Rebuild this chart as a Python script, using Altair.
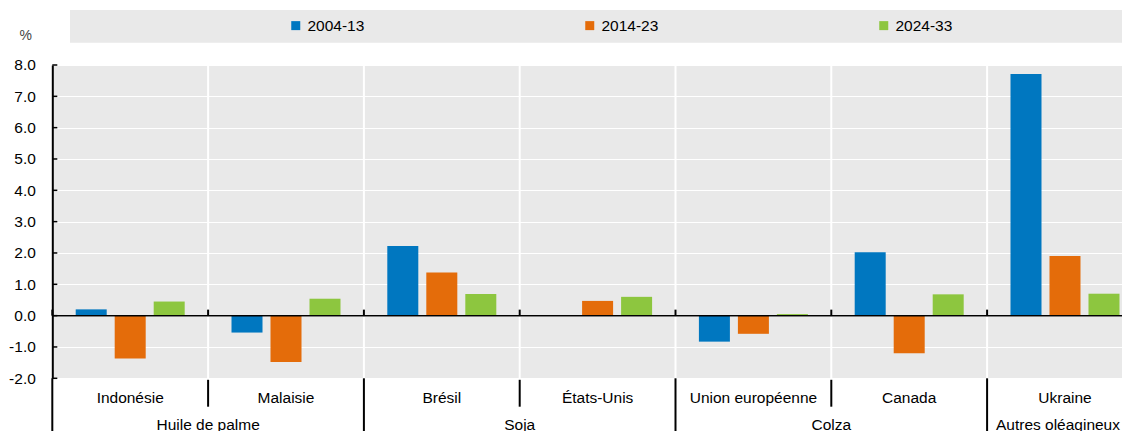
import altair as alt
import pandas as pd

countries = ["Indonésie", "Malaisie", "Brésil", "États-Unis", "Union européenne", "Canada", "Ukraine"]
groups = ["Huile de palme", "Huile de palme", "Soja", "Soja", "Colza", "Colza", "Autres oléagineux"]
periods = ["2004-13", "2014-23", "2024-33"]
v_2004_13 = [0.20, -0.54, 2.22, 0.02, -0.83, 2.02, 7.71]
v_2014_23 = [-1.37, -1.48, 1.38, 0.47, -0.58, -1.20, 1.90]
v_2024_33 = [0.45, 0.54, 0.69, 0.60, 0.05, 0.68, 0.70]
colors = ["#0077C0", "#E46C0A", "#8DC63F"]
y_ticks = [-2, -1, 0, 1, 2, 3, 4, 5, 6, 7, 8]

FONT = "Liberation Sans, Arial, sans-serif"
FS = 15.5
PAD_L = 44.3
W_VIEW = 1114 - PAD_L     # visible plot width (svg must not exceed 1114 px)
W_FULL = 1090.6           # full categorical range, partly cut at the right edge
H = 313.3
GRAY = "#e9e9e9"

rows = []
for p, vals in zip(periods, [v_2004_13, v_2014_23, v_2024_33]):
    for c, g, v in zip(countries, groups, vals):
        rows.append({"country": c, "group": g, "period": p, "value": v})
bars_df = pd.DataFrame(rows)

cdf = pd.DataFrame({"country": countries, "group": groups})
cdf["group_start"] = [i == 0 or groups[i] != groups[i - 1] for i in range(len(groups))]
cdf["first"] = [i == 0 for i in range(len(countries))]

grp_rows = []
seen = []
for g in groups:
    if g not in seen:
        seen.append(g)
for g in seen:
    members = [c for c, gg in zip(countries, groups) if gg == g]
    grp_rows.append({"country": members[1] if len(members) == 2 else members[0],
                     "group": g, "pair": len(members) == 2})
gdf = pd.DataFrame(grp_rows)
tdf = pd.DataFrame({"value": y_ticks})

xscale = alt.Scale(domain=countries, paddingInner=0, paddingOuter=0, range=[0, W_FULL])
yscale = alt.Scale(domain=[-2, 8], nice=False, zero=False)

xaxis = alt.Axis(title=None, ticks=False, domain=False, grid=False, labelAngle=0,
                 labelFont=FONT, labelFontSize=FS, labelColor="black",
                 labelBaseline="alphabetic", labelPadding=24.4)
yaxis = alt.Axis(title="%", values=y_ticks, ticks=False, labelPadding=17,
                 labelExpr="replace(format(datum.value, '.1f'), '\u2212', '-')",
                 domainColor="black", domainWidth=2, gridColor="white", gridWidth=1.2,
                 labelFont=FONT, labelFontSize=FS, labelColor="black",
                 titleAngle=0, titleX=-27, titleY=-29, titleAlign="center",
                 titleBaseline="middle", titleFont=FONT, titleFontSize=14,
                 titleFontWeight="normal", titleColor="#444")


def X(field="country", band=None):
    if band is None:
        return alt.X(f"{field}:N", sort=countries, scale=xscale, axis=xaxis, title=None)
    return alt.X(f"{field}:N", sort=countries, scale=xscale, axis=xaxis, title=None, bandPosition=band)


def Y(field="value"):
    return alt.Y(f"{field}:Q", scale=yscale, axis=yaxis, title="%")


base_c = alt.Chart(cdf)

vgrid = base_c.transform_filter("!datum.first").mark_rule(color="white", strokeWidth=2).encode(x=X(band=0))

legend_bg = alt.Chart(pd.DataFrame({"k": [0]})).mark_rect(color=GRAY).encode(
    x=alt.value(17.7), x2=alt.value(W_FULL), y=alt.value(-55), y2=alt.value(-22.3)
)

bars = alt.Chart(bars_df).mark_bar().encode(
    x=X(),
    xOffset=alt.XOffset("period:N", sort=periods,
                        scale=alt.Scale(domain=periods, paddingInner=0.205, paddingOuter=0.6)),
    y=Y(),
    color=alt.Color("period:N", sort=periods, scale=alt.Scale(domain=periods, range=colors),
                    legend=alt.Legend(title=None, orient="none", legendX=235.7, legendY=-47.5,
                                      direction="horizontal", symbolType="square", symbolSize=81,
                                      symbolStrokeWidth=0, labelFont=FONT, labelFontSize=FS,
                                      labelColor="black", labelOffset=4, columnPadding=217,
                                      padding=0)),
)

zero_line = alt.Chart(pd.DataFrame({"value": [0]})).mark_rule(color="black", strokeWidth=1.5).encode(
    y=Y()
)

zero_ticks = alt.Chart(cdf).transform_calculate(value="0").mark_rule(
    color="black", strokeWidth=2, y2Offset=-6
).encode(x=X(band=0), y=Y(), y2="value:Q")

y_inticks = alt.Chart(tdf).mark_rule(color="black", strokeWidth=1.5).encode(
    x=alt.value(0), x2=alt.value(5), y=Y()
)

sep_short = base_c.transform_filter("!datum.group_start").mark_rule(color="black", strokeWidth=2).encode(
    x=X(band=0), y=alt.value(H + 1.5), y2=alt.value(H + 28.4)
)
sep_long = base_c.transform_filter("datum.group_start").mark_rule(color="black", strokeWidth=2).encode(
    x=X(band=0), y=alt.value(H), y2=alt.value(H + 70)
)

glab_pair = alt.Chart(gdf).transform_filter("datum.pair").mark_text(
    font=FONT, fontSize=FS, color="black", align="center", baseline="alphabetic"
).encode(x=X(band=0), y=alt.value(H + 51.5), text="group:N")
glab_single = alt.Chart(gdf).transform_filter("!datum.pair").mark_text(
    font=FONT, fontSize=FS, color="black", align="center", baseline="alphabetic", dx=-7
).encode(x=X(band=0.5), y=alt.value(H + 51.5), text="group:N")

chart = alt.layer(
    vgrid, legend_bg, bars, zero_line, zero_ticks, y_inticks, sep_short, sep_long, glab_pair, glab_single
).properties(
    width=W_VIEW, height=H,
    autosize=alt.AutoSizeParams(type="none"),
    padding={"left": PAD_L, "top": 57, "right": 0, "bottom": 60},
    background="white",
).configure_view(fill=GRAY, strokeWidth=0)

chart.save("out.html", embed_options={"renderer": "svg", "actions": False})
